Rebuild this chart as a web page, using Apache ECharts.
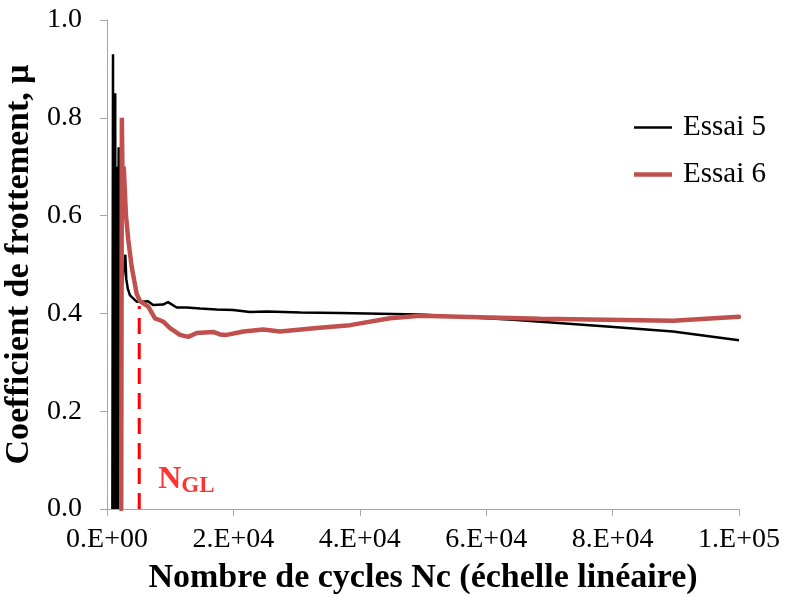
<!DOCTYPE html>
<html>
<head>
<meta charset="utf-8">
<script src="https://cdn.jsdelivr.net/npm/echarts@6/dist/echarts.min.js"></script>
<style>
  html, body { margin: 0; padding: 0; background: #fff; }
  #chart { width: 785px; height: 597px; }
</style>
</head>
<body>
<div id="chart"></div>
<script>
// Essai 5 (cycles, coefficient) - dense start-up spikes then steady state
const essai5 = [
  [850, 0], [950, 0.93], [1000, 0], [1100, 0.70], [1150, 0], [1300, 0.85],
  [1350, 0], [1450, 0.70], [1500, 0], [1600, 0.66], [1650, 0], [1850, 0.74],
  [1900, 0], [2300, 0.45], [2900, 0.52], [3050, 0.47], [3300, 0.45],
  [3640, 0.437], [4700, 0.424], [5490, 0.424], [6490, 0.425], [7280, 0.417],
  [8860, 0.418], [9650, 0.423], [11030, 0.412], [12610, 0.412], [14720, 0.41],
  [17360, 0.408], [19940, 0.407], [22630, 0.403], [25270, 0.404], [30650, 0.402],
  [36870, 0.401], [49530, 0.398], [64240, 0.387], [79100, 0.373], [89560, 0.363],
  [100000, 0.345]
];
// Essai 6
const essai6 = [
  [2250, 0], [2350, 0.80], [2500, 0.62], [2650, 0.70], [3000, 0.60],
  [3370, 0.55], [3910, 0.495], [4700, 0.44], [5220, 0.425], [6530, 0.414],
  [7590, 0.39], [8390, 0.386], [8910, 0.383], [9970, 0.37], [11550, 0.356],
  [12860, 0.352], [14190, 0.36], [16820, 0.362], [17880, 0.357], [18940, 0.356],
  [21570, 0.363], [24730, 0.367], [27370, 0.363], [33180, 0.37], [38450, 0.376],
  [44780, 0.39], [49530, 0.395], [68510, 0.389], [89560, 0.385], [100000, 0.393]
];
// N_GL marker
const ngl = 5100;
const nglTop = 0.415;
const xTicks = [0, 20000, 40000, 60000, 80000, 100000];
const yTicks = [0, 0.2, 0.4, 0.6, 0.8, 1.0];

const serif = '"Liberation Serif", "Times New Roman", serif';

function sciLabel(v) {
  if (v === 0) return '0.E+00';
  const e = Math.floor(Math.log10(v));
  const m = Math.round(v / Math.pow(10, e));
  return m + '.E+' + (e < 10 ? '0' + e : e);
}

const chart = echarts.init(document.getElementById('chart'));
chart.setOption({
  animation: false,
  backgroundColor: '#fff',
  grid: { left: 107, right: 46, top: 20, bottom: 88, outerBoundsMode: 'none', containLabel: false },
  legend: {
    orient: 'vertical',
    left: 629, top: 108,
    itemWidth: 38, itemHeight: 28, itemGap: 18,
    symbolKeepAspect: true,
    textStyle: { fontFamily: serif, fontSize: 29, color: '#000', padding: [0, 0, 0, 6] },
    data: [
      { name: 'Essai 5', icon: 'path://M0,0H38V2.5H0Z' },
      { name: 'Essai 6', icon: 'path://M0,0H38V4.5H0Z' }
    ]
  },
  xAxis: {
    type: 'value', min: xTicks[0], max: xTicks[xTicks.length - 1], interval: 20000,
    name: 'Nombre de cycles Nc (échelle linéaire)',
    nameLocation: 'middle', nameGap: 52,
    nameTextStyle: { fontFamily: serif, fontSize: 34, fontWeight: 'bold', color: '#000' },
    axisLine: { lineStyle: { color: '#a6a6a6', width: 1 } },
    axisTick: { show: true, inside: false, length: 7, lineStyle: { color: '#a6a6a6' } },
    axisLabel: { fontFamily: serif, fontSize: 28, color: '#000', margin: 17, formatter: sciLabel, hideOverlap: false },
    splitLine: { show: false }
  },
  yAxis: {
    type: 'value', min: yTicks[0], max: yTicks[yTicks.length - 1], interval: 0.2,
    name: 'Coefficient de frottement, μ',
    nameLocation: 'middle', nameGap: 63,
    nameTextStyle: { fontFamily: serif, fontSize: 34, fontWeight: 'bold', color: '#000' },
    axisLine: { show: true, lineStyle: { color: '#a6a6a6', width: 1 } },
    axisTick: { show: true, inside: false, length: 7, lineStyle: { color: '#a6a6a6' } },
    axisLabel: { fontFamily: serif, fontSize: 28, color: '#000', margin: 25, formatter: v => v.toFixed(1) },
    splitLine: { show: false }
  },
  series: [
    {
      name: 'Essai 5', type: 'line', data: essai5, symbol: 'none', z: 3,
      lineStyle: { color: '#000', width: 2.5 }, itemStyle: { color: '#000' }
    },
    {
      name: 'Essai 6', type: 'line', data: essai6, symbol: 'none', z: 4,
      lineStyle: { color: '#c0504d', width: 4.5, cap: 'round' }, itemStyle: { color: '#c0504d' }
    },
    {
      name: 'NGL', type: 'line', data: [[ngl, 0], [ngl, nglTop]], symbol: 'none', z: 5,
      lineStyle: { color: '#ff0000', width: 3, type: [16, 9] }
    },
    {
      name: 'NGLlabel', type: 'scatter', data: [[ngl, 0]], symbolSize: 0, z: 6,
      label: {
        show: true, position: [19, -48], align: 'left', verticalAlign: 'top',
        formatter: '{n|N}{s|GL}',
        rich: {
          n: { fontFamily: serif, fontSize: 32, fontWeight: 'bold', color: '#ff0000' },
          s: { fontFamily: serif, fontSize: 23, fontWeight: 'bold', color: '#ff0000', padding: [14, 0, 0, 0] }
        }
      }
    }
  ]
});
</script>
</body>
</html>
